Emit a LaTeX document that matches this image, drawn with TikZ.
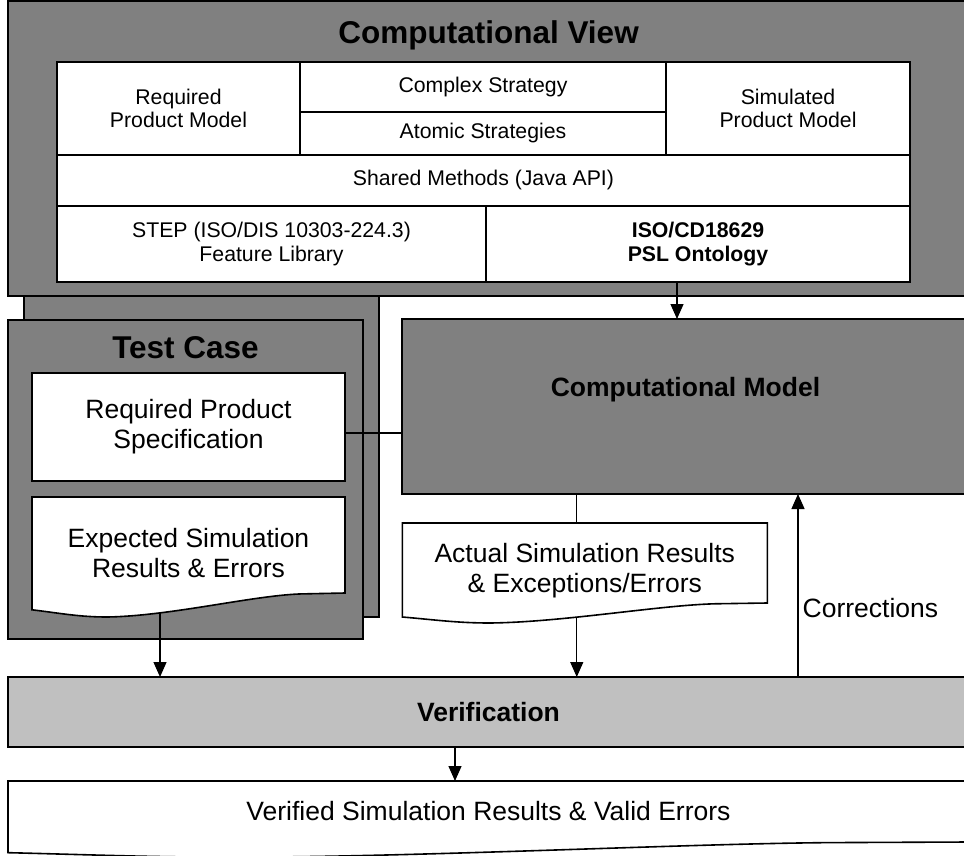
\documentclass[tikz,border=0pt]{standalone}
\usepackage{fontspec}
\setmainfont{Liberation Sans}
\usetikzlibrary{arrows.meta,calc}

\definecolor{boxgray}{RGB}{128,128,128}
\definecolor{bargray}{RGB}{192,192,192}

\pgfdeclarelayer{front}
\pgfsetlayers{main,front}

\newcommand{\titlefont}{\fontsize{31.5}{36}\selectfont\bfseries}
\newcommand{\headfont}{\fontsize{26.5}{30}\selectfont\bfseries}
\newcommand{\bodyfont}{\fontsize{26.5}{30}\selectfont}
\newcommand{\cellfont}{\fontsize{21.25}{23.5}\selectfont}

% outline of a document node: flat top, wavy bottom (#2 = depth of right corner)
\newcommand{\docoutline}[2]{%
  \draw[docedge] (#1.north west) -- (#1.north east) -- ($(#1.north east)+(0,#2)$)
    -- ($(#1.north west)!0.855!(#1.north east)+(0,{1.01*#2})$)
    .. controls ($(#1.north west)!0.70!(#1.north east)+(0,{1.03*#2})$)
    and ($(#1.north west)!0.44!(#1.north east)+(0,{1.24*#2})$)
    .. ($(#1.north west)!0.24!(#1.north east)+(0,{1.25*#2})$)
    .. controls ($(#1.north west)!0.15!(#1.north east)+(0,{1.25*#2})$)
    and ($(#1.north west)!0.09!(#1.north east)+(0,{1.21*#2})$)
    .. ($(#1.north west)+(0,{1.175*#2})$) -- cycle;}

\tikzset{
  graybox/.style={draw, line width=1.6pt, fill=boxgray, inner sep=0pt, outer sep=0pt},
  cell/.style={draw, line width=1.6pt, fill=white, inner sep=0pt, outer sep=0pt, align=center, font=\cellfont},
  textbox/.style={draw, line width=1.6pt, fill=white, inner sep=0pt, outer sep=0pt, align=center, font=\bodyfont},
  docbox/.style={inner sep=0pt, outer sep=0pt, align=center, font=\bodyfont, anchor=north},
  docedge/.style={draw, line width=1.6pt, fill=white},
  link/.style={line width=1.3pt},
}

\begin{document}
\begin{tikzpicture}[x=1pt, y=-1pt, >={Triangle[width=13pt,length=15pt]}]
  \useasboundingbox (0,0) rectangle (964,856);

  % computational view
  \node[graybox, minimum width=355pt, minimum height=337pt] (shadow) at (201.5,448.5) {};
  \node[graybox, minimum width=961pt, minimum height=295pt] (cview) at (488.5,148.5) {};
  \node[font=\titlefont] (cviewtitle) at (488.5,35) {Computational View};

  \node[cell, minimum width=243pt, minimum height=93pt] (reqmodel) at (178.5,108.5) {Required\\Product Model};
  \node[cell, minimum width=366pt, minimum height=50pt] (complex) at (483,87) {Complex Strategy};
  \node[cell, minimum width=366pt, minimum height=43pt] (atomic) at (483,133.5) {Atomic Strategies};
  \node[cell, minimum width=244pt, minimum height=93pt] (simmodel) at (788,108.5) {Simulated\\Product Model};
  \node[cell, minimum width=853pt, minimum height=51pt] (shared) at (483.5,180.5) {Shared Methods (Java API)};
  \node[cell, minimum width=429pt, minimum height=76pt] (step) at (271.5,244) {STEP (ISO/DIS 10303-224.3)\\Feature Library};
  \node[cell, minimum width=424pt, minimum height=76pt, font=\cellfont\bfseries] (psl) at (698,244) {ISO/CD18629\\PSL Ontology};

  % test case
  \node[graybox, minimum width=355pt, minimum height=319pt] (testcase) at (185.5,479.5) {};
  \node[font=\titlefont] (testtitle) at (185.5,348) {Test Case};
  \node[textbox, minimum width=313pt, minimum height=108pt] (reqspec) at (188.5,427) {Required Product\\Specification};

  % computational model
  \node[graybox, minimum width=567pt, minimum height=175pt] (cmodel) at (685.5,406.5) {};
  \node[font=\headfont] (cmtitle) at (685.5,390) {Computational Model};

  % documents
  \begin{pgfonlayer}{front}
    \node[docbox, minimum width=313pt, minimum height=112pt] (expect) at (188.5,497) {Expected Simulation\\Results \& Errors};
    \node[docbox, minimum width=365pt, minimum height=96pt] (actual) at (584.8,523) {Actual Simulation Results\\\& Exceptions/Errors};
    \node[docbox, minimum width=961pt, minimum height=61pt] (verified) at (488.5,781) {Verified Simulation Results \& Valid Errors};
  \end{pgfonlayer}
  \docoutline{expect}{96}
  \docoutline{actual}{80}
  \docoutline{verified}{61}

  % verification
  \node[graybox, fill=bargray, minimum width=961pt, minimum height=70pt, font=\headfont] (verif) at (488.5,712) {Verification};

  % connectors
  \coordinate (feed) at (677,282);
  \draw[link, ->] (feed) -- (feed |- cmodel.north);
  \draw[link] ([yshift=-6pt]reqspec.east) -- ([yshift=-6pt]reqspec.east -| cmodel.west);

  \coordinate (outx) at (576.7,0);
  \draw[link] (cmodel.south -| outx) -- (actual.north -| outx);
  \coordinate (actout) at ($(actual.north west)!0.478!(actual.north east)+(0,95)$);
  \draw[link, ->] (actout) -- (actout |- verif.north);

  \coordinate (expout) at ($(expect.north west)!0.409!(expect.north east)+(0,115)$);
  \draw[link, ->] (expout) -- (expout |- verif.north);

  \coordinate (corr) at (798,0);
  \draw[link, ->] (corr |- verif.north) -- (corr |- cmodel.south)
    node[pos=0.377, anchor=west, font=\bodyfont, inner sep=4pt] (corrlabel) {Corrections};

  \coordinate (resx) at (455,0);
  \draw[link, ->] (verif.south -| resx) -- (verified.north -| resx);
\end{tikzpicture}
\end{document}
